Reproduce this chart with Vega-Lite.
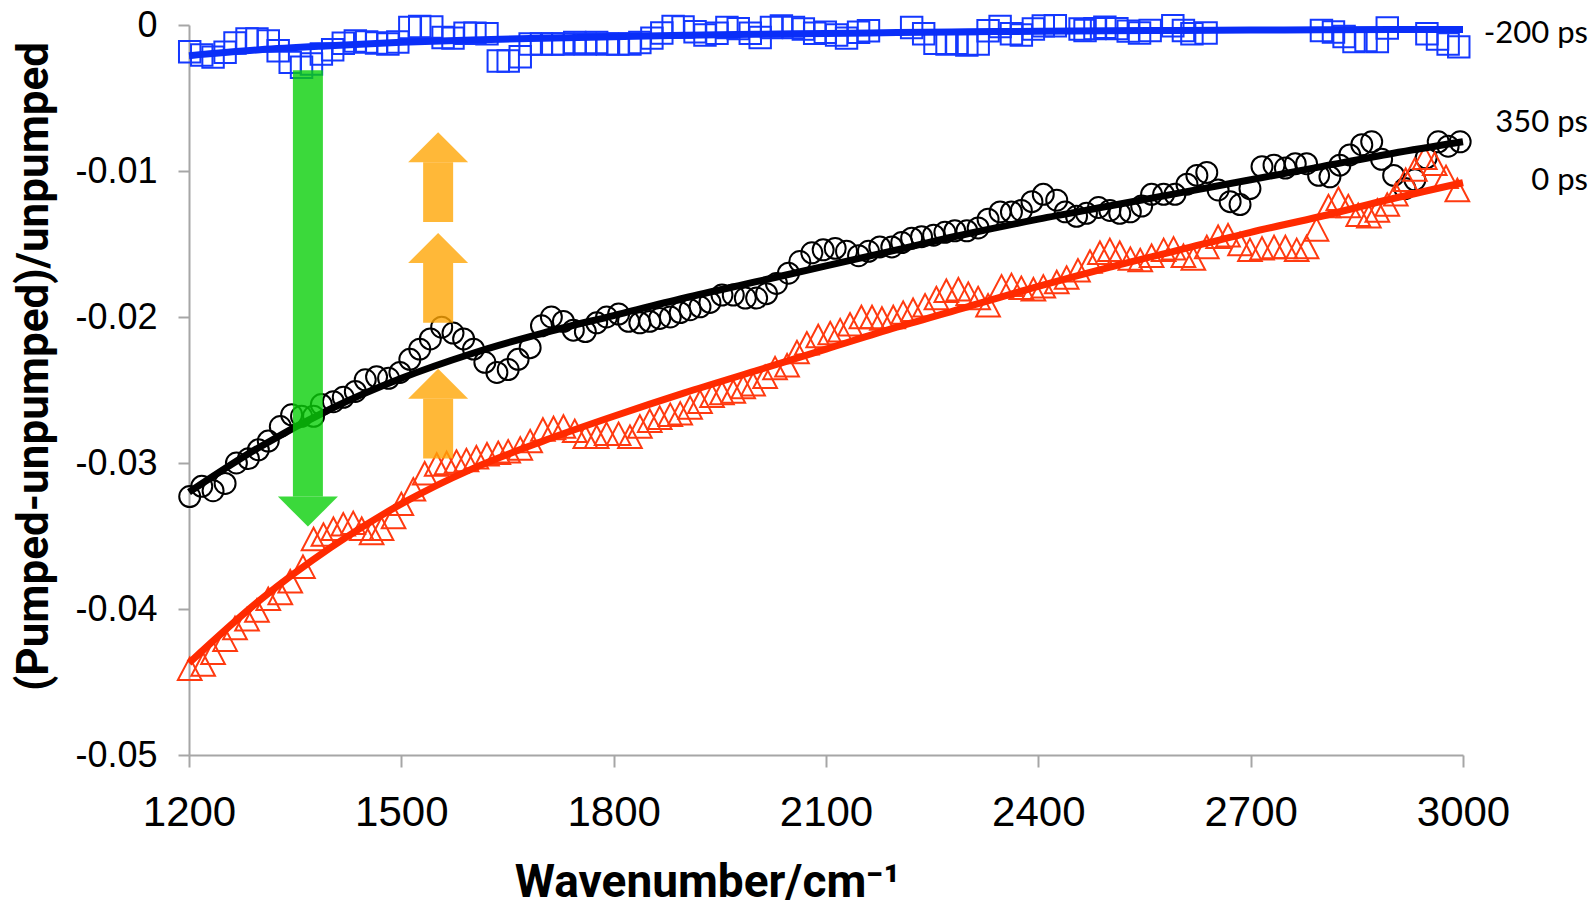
{
 "$schema": "https://vega.github.io/schema/vega-lite/v6.json",
 "width": 1274,
 "height": 730,
 "autosize": "none",
 "padding": {"left": 189, "top": 25, "right": 131, "bottom": 152},
 "background": "white",
 "config": {"view": {"stroke": null}, "axis": {"grid": false}},
 "datasets": {
  "blue": [
   {"w":1201,"v":-0.00183},{"w":1218,"v":-0.00205},{"w":1234,"v":-0.0022},{"w":1251,"v":-0.00187},{"w":1265,"v":-0.00123},{"w":1282,"v":-0.00096},{"w":1296,"v":-0.00096},{"w":1312,"v":-0.0011},{"w":1326,"v":-0.00176},{"w":1343,"v":-0.00256},{"w":1359,"v":-0.0029},{"w":1373,"v":-0.00267},{"w":1387,"v":-0.00198},{"w":1403,"v":-0.0017},{"w":1418,"v":-0.00125},{"w":1435,"v":-0.0011},{"w":1451,"v":-0.00116},{"w":1465,"v":-0.00123},{"w":1481,"v":-0.0013},{"w":1495,"v":-0.00116},{"w":1512,"v":-0.00017},{"w":1526,"v":-0.0001},{"w":1543,"v":-0.00014},{"w":1559,"v":-0.00085},{"w":1573,"v":-0.0009},{"w":1590,"v":-0.00057},{"w":1604,"v":-0.00057},{"w":1621,"v":-0.0006},{"w":1637,"v":-0.00246},{"w":1651,"v":-0.00246},{"w":1668,"v":-0.00217},{"w":1682,"v":-0.0013},{"w":1698,"v":-0.0013},{"w":1714,"v":-0.0013},{"w":1728,"v":-0.0013},{"w":1745,"v":-0.0012},{"w":1760,"v":-0.0013},{"w":1776,"v":-0.0012},{"w":1791,"v":-0.0013},{"w":1806,"v":-0.0013},{"w":1823,"v":-0.0013},{"w":1837,"v":-0.0012},{"w":1854,"v":-0.0009},{"w":1868,"v":-0.00055},{"w":1884,"v":-0.0001},{"w":1898,"v":-0.00014},{"w":1915,"v":-0.00046},{"w":1929,"v":-0.00068},{"w":1946,"v":-0.00057},{"w":1960,"v":-0.00017},{"w":1976,"v":-0.00025},{"w":1993,"v":-0.00057},{"w":2007,"v":-0.00085},{"w":2023,"v":-0.00017},{"w":2037,"v":-0.00006},{"w":2054,"v":-0.00017},{"w":2068,"v":-0.00027},{"w":2084,"v":-0.00057},{"w":2099,"v":-0.0005},{"w":2115,"v":-0.00068},{"w":2129,"v":-0.0009},{"w":2146,"v":-0.0005},{"w":2160,"v":-0.0004},{"w":2221,"v":-0.00017},{"w":2238,"v":-0.0006},{"w":2254,"v":-0.00125},{"w":2271,"v":-0.0013},{"w":2285,"v":-0.00125},{"w":2299,"v":-0.00137},{"w":2315,"v":-0.0013},{"w":2329,"v":-0.0004},{"w":2346,"v":-0.0001},{"w":2362,"v":-0.0006},{"w":2376,"v":-0.00068},{"w":2393,"v":-0.00027},{"w":2407,"v":-0.00006},{"w":2424,"v":-0.00005},{"w":2459,"v":-0.00027},{"w":2466,"v":-0.00037},{"w":2480,"v":-0.00025},{"w":2494,"v":-0.00016},{"w":2511,"v":-0.00025},{"w":2527,"v":-0.00042},{"w":2543,"v":-0.00055},{"w":2558,"v":-0.00037},{"w":2590,"v":-0.00005},{"w":2605,"v":-0.00037},{"w":2617,"v":-0.0006},{"w":2637,"v":-0.00055},{"w":2800,"v":-0.00037},{"w":2817,"v":-0.00048},{"w":2832,"v":-0.00079},{"w":2846,"v":-0.00114},{"w":2863,"v":-0.00107},{"w":2879,"v":-0.00114},{"w":2893,"v":-0.0002},{"w":2949,"v":-0.0006},{"w":2964,"v":-0.00096},{"w":2979,"v":-0.0013},{"w":2994,"v":-0.0015}
  ],
  "black": [
   {"w":1201,"v":-0.0323},{"w":1218,"v":-0.0316},{"w":1234,"v":-0.0319},{"w":1251,"v":-0.0314},{"w":1267,"v":-0.03},{"w":1284,"v":-0.0297},{"w":1298,"v":-0.0291},{"w":1312,"v":-0.0285},{"w":1329,"v":-0.0275},{"w":1345,"v":-0.0267},{"w":1359,"v":-0.0268},{"w":1376,"v":-0.0268},{"w":1387,"v":-0.026},{"w":1404,"v":-0.0258},{"w":1418,"v":-0.0255},{"w":1435,"v":-0.0251},{"w":1449,"v":-0.0243},{"w":1465,"v":-0.0241},{"w":1482,"v":-0.0242},{"w":1498,"v":-0.0238},{"w":1512,"v":-0.0229},{"w":1526,"v":-0.0222},{"w":1541,"v":-0.0215},{"w":1557,"v":-0.0207},{"w":1573,"v":-0.0211},{"w":1588,"v":-0.0215},{"w":1602,"v":-0.0222},{"w":1618,"v":-0.0231},{"w":1635,"v":-0.0238},{"w":1651,"v":-0.0236},{"w":1665,"v":-0.0229},{"w":1682,"v":-0.0221},{"w":1698,"v":-0.0206},{"w":1712,"v":-0.02},{"w":1729,"v":-0.0203},{"w":1743,"v":-0.0209},{"w":1760,"v":-0.021},{"w":1776,"v":-0.0204},{"w":1790,"v":-0.02},{"w":1807,"v":-0.0198},{"w":1821,"v":-0.0203},{"w":1837,"v":-0.0204},{"w":1851,"v":-0.0203},{"w":1865,"v":-0.0201},{"w":1880,"v":-0.02},{"w":1894,"v":-0.0197},{"w":1908,"v":-0.0195},{"w":1922,"v":-0.0193},{"w":1936,"v":-0.019},{"w":1953,"v":-0.0185},{"w":1969,"v":-0.0185},{"w":1986,"v":-0.0187},{"w":2002,"v":-0.0187},{"w":2016,"v":-0.0184},{"w":2030,"v":-0.0177},{"w":2047,"v":-0.017},{"w":2063,"v":-0.0162},{"w":2080,"v":-0.0156},{"w":2096,"v":-0.0154},{"w":2113,"v":-0.0153},{"w":2129,"v":-0.0155},{"w":2146,"v":-0.0158},{"w":2160,"v":-0.0155},{"w":2176,"v":-0.0152},{"w":2193,"v":-0.0152},{"w":2207,"v":-0.0149},{"w":2221,"v":-0.0146},{"w":2235,"v":-0.0145},{"w":2252,"v":-0.0144},{"w":2268,"v":-0.0142},{"w":2282,"v":-0.0141},{"w":2299,"v":-0.0141},{"w":2315,"v":-0.0139},{"w":2329,"v":-0.0133},{"w":2346,"v":-0.0128},{"w":2362,"v":-0.0128},{"w":2376,"v":-0.0127},{"w":2391,"v":-0.0121},{"w":2407,"v":-0.0116},{"w":2426,"v":-0.012},{"w":2438,"v":-0.0128},{"w":2454,"v":-0.0131},{"w":2468,"v":-0.0129},{"w":2485,"v":-0.0125},{"w":2501,"v":-0.0127},{"w":2515,"v":-0.0129},{"w":2530,"v":-0.0128},{"w":2546,"v":-0.0124},{"w":2560,"v":-0.0116},{"w":2577,"v":-0.0116},{"w":2593,"v":-0.0116},{"w":2610,"v":-0.0109},{"w":2624,"v":-0.0103},{"w":2638,"v":-0.0101},{"w":2654,"v":-0.0113},{"w":2671,"v":-0.0121},{"w":2685,"v":-0.0123},{"w":2699,"v":-0.0112},{"w":2716,"v":-0.0097},{"w":2733,"v":-0.0096},{"w":2749,"v":-0.0098},{"w":2763,"v":-0.0095},{"w":2779,"v":-0.0095},{"w":2796,"v":-0.0103},{"w":2812,"v":-0.0104},{"w":2826,"v":-0.0096},{"w":2840,"v":-0.0089},{"w":2857,"v":-0.0082},{"w":2871,"v":-0.008},{"w":2885,"v":-0.0092},{"w":2902,"v":-0.0103},{"w":2918,"v":-0.0112},{"w":2932,"v":-0.0106},{"w":2948,"v":-0.0091},{"w":2965,"v":-0.008},{"w":2979,"v":-0.0083},{"w":2996,"v":-0.008}
  ],
  "red": [
   {"w":1201,"v":-0.0441},{"w":1220,"v":-0.0438},{"w":1234,"v":-0.043},{"w":1251,"v":-0.0421},{"w":1265,"v":-0.0413},{"w":1282,"v":-0.0407},{"w":1296,"v":-0.0401},{"w":1312,"v":-0.0393},{"w":1329,"v":-0.0389},{"w":1343,"v":-0.0381},{"w":1361,"v":-0.0371},{"w":1376,"v":-0.0352},{"w":1390,"v":-0.0349},{"w":1404,"v":-0.0345},{"w":1418,"v":-0.0342},{"w":1432,"v":-0.0341},{"w":1444,"v":-0.0345},{"w":1458,"v":-0.0348},{"w":1472,"v":-0.0345},{"w":1489,"v":-0.0337},{"w":1500,"v":-0.0328},{"w":1517,"v":-0.0318},{"w":1533,"v":-0.0307},{"w":1550,"v":-0.0301},{"w":1564,"v":-0.03},{"w":1578,"v":-0.0299},{"w":1592,"v":-0.0298},{"w":1606,"v":-0.0296},{"w":1621,"v":-0.0294},{"w":1637,"v":-0.0293},{"w":1651,"v":-0.0292},{"w":1668,"v":-0.029},{"w":1682,"v":-0.0285},{"w":1700,"v":-0.0277},{"w":1715,"v":-0.0276},{"w":1729,"v":-0.0275},{"w":1745,"v":-0.0278},{"w":1760,"v":-0.0282},{"w":1776,"v":-0.0282},{"w":1790,"v":-0.028},{"w":1807,"v":-0.028},{"w":1823,"v":-0.0282},{"w":1837,"v":-0.0275},{"w":1851,"v":-0.0271},{"w":1865,"v":-0.0269},{"w":1880,"v":-0.0267},{"w":1894,"v":-0.0266},{"w":1908,"v":-0.0262},{"w":1922,"v":-0.0258},{"w":1939,"v":-0.0254},{"w":1953,"v":-0.0252},{"w":1969,"v":-0.0251},{"w":1983,"v":-0.0248},{"w":1997,"v":-0.0246},{"w":2014,"v":-0.0241},{"w":2028,"v":-0.0235},{"w":2045,"v":-0.0233},{"w":2059,"v":-0.0224},{"w":2073,"v":-0.0218},{"w":2089,"v":-0.0213},{"w":2106,"v":-0.0211},{"w":2120,"v":-0.0209},{"w":2134,"v":-0.0205},{"w":2150,"v":-0.02},{"w":2165,"v":-0.02},{"w":2179,"v":-0.0201},{"w":2195,"v":-0.02},{"w":2209,"v":-0.0197},{"w":2223,"v":-0.0195},{"w":2240,"v":-0.0192},{"w":2256,"v":-0.0187},{"w":2270,"v":-0.0182},{"w":2287,"v":-0.0181},{"w":2301,"v":-0.0184},{"w":2315,"v":-0.0187},{"w":2329,"v":-0.0192},{"w":2348,"v":-0.0179},{"w":2362,"v":-0.0178},{"w":2376,"v":-0.018},{"w":2393,"v":-0.0181},{"w":2407,"v":-0.0179},{"w":2426,"v":-0.0176},{"w":2440,"v":-0.0173},{"w":2456,"v":-0.0168},{"w":2473,"v":-0.0162},{"w":2487,"v":-0.0156},{"w":2501,"v":-0.0154},{"w":2515,"v":-0.0156},{"w":2530,"v":-0.016},{"w":2544,"v":-0.0161},{"w":2560,"v":-0.0158},{"w":2577,"v":-0.0154},{"w":2591,"v":-0.0153},{"w":2605,"v":-0.0158},{"w":2619,"v":-0.016},{"w":2638,"v":-0.0152},{"w":2654,"v":-0.0145},{"w":2668,"v":-0.0144},{"w":2685,"v":-0.015},{"w":2699,"v":-0.0154},{"w":2716,"v":-0.0153},{"w":2733,"v":-0.0152},{"w":2749,"v":-0.0152},{"w":2765,"v":-0.0154},{"w":2779,"v":-0.0152},{"w":2793,"v":-0.014},{"w":2810,"v":-0.0124},{"w":2824,"v":-0.0119},{"w":2838,"v":-0.0124},{"w":2852,"v":-0.013},{"w":2867,"v":-0.0131},{"w":2879,"v":-0.0127},{"w":2893,"v":-0.0123},{"w":2905,"v":-0.0116},{"w":2919,"v":-0.0106},{"w":2932,"v":-0.0099},{"w":2946,"v":-0.0091},{"w":2960,"v":-0.0095},{"w":2976,"v":-0.0104},{"w":2992,"v":-0.0113}
  ],
  "fitBlue": [
   {"w":1200,"v":-0.0021},{"w":1300,"v":-0.0017},{"w":1400,"v":-0.00142},{"w":1500,"v":-0.00118},{"w":1600,"v":-0.00102},{"w":1700,"v":-0.0009},{"w":1800,"v":-0.0008},{"w":1900,"v":-0.00071},{"w":2000,"v":-0.00064},{"w":2100,"v":-0.00058},{"w":2200,"v":-0.00052},{"w":2300,"v":-0.00047},{"w":2400,"v":-0.00043},{"w":2500,"v":-0.0004},{"w":2600,"v":-0.00037},{"w":2700,"v":-0.00035},{"w":2800,"v":-0.00033},{"w":2900,"v":-0.00031},{"w":3000,"v":-0.0003}
  ],
  "fitBlack": [
   {"w":1200,"v":-0.032},{"w":1300,"v":-0.0289},{"w":1400,"v":-0.0263},{"w":1500,"v":-0.0242},{"w":1600,"v":-0.0225},{"w":1700,"v":-0.0211},{"w":1800,"v":-0.0199},{"w":1900,"v":-0.0187},{"w":2000,"v":-0.0176},{"w":2100,"v":-0.0165},{"w":2200,"v":-0.0154},{"w":2300,"v":-0.0143},{"w":2400,"v":-0.0133},{"w":2500,"v":-0.0124},{"w":2600,"v":-0.0115},{"w":2700,"v":-0.0106},{"w":2800,"v":-0.0097},{"w":2900,"v":-0.0088},{"w":3000,"v":-0.008}
  ],
  "fitRed": [
   {"w":1200,"v":-0.0437},{"w":1300,"v":-0.0394},{"w":1400,"v":-0.0358},{"w":1500,"v":-0.0328},{"w":1600,"v":-0.0304},{"w":1700,"v":-0.0285},{"w":1800,"v":-0.0268},{"w":1900,"v":-0.0252},{"w":2000,"v":-0.0237},{"w":2100,"v":-0.0222},{"w":2200,"v":-0.0207},{"w":2300,"v":-0.0193},{"w":2400,"v":-0.0179},{"w":2500,"v":-0.0166},{"w":2600,"v":-0.0154},{"w":2700,"v":-0.0142},{"w":2800,"v":-0.0131},{"w":2900,"v":-0.0119},{"w":3000,"v":-0.0108}
  ],
  "arrows": [
   {"w":1368,"v":-0.0031,"v2":-0.0323,"c":"green"},
   {"w":1552,"v":-0.0135,"v2":-0.0094,"c":"orange"},
   {"w":1552,"v":-0.0204,"v2":-0.0163,"c":"orange"},
   {"w":1552,"v":-0.0297,"v2":-0.0256,"c":"orange"}
  ],
  "labels": [
   {"w":3000,"v":-0.0006,"t":"-200 ps"},
   {"w":3000,"v":-0.0067,"t":"350 ps"},
   {"w":3000,"v":-0.0107,"t":"0 ps"}
  ]
 },
 "layer": [
  {
   "data": {"name": "blue"},
   "mark": {"type": "point", "shape": "square", "size": 460, "filled": false, "color": "#1438FF", "strokeWidth": 2, "opacity": 1},
   "encoding": {
    "x": {"field": "w", "type": "quantitative", "scale": {"domain": [1200, 3000], "nice": false},
     "axis": {"values": [1200, 1500, 1800, 2100, 2400, 2700, 3000], "format": "d", "title": "Wavenumber/cm⁻¹",
      "labelFont": "Liberation Sans", "labelFontSize": 42, "labelColor": "#000", "labelPadding": 25, "labelFlush": false,
      "domainColor": "#A6A6A6", "domainWidth": 2, "tickColor": "#A6A6A6", "tickWidth": 2, "tickSize": 12,
      "titleFont": "Roboto", "titleFontWeight": "bold", "titleFontSize": 46, "titleColor": "#000",
      "titleX": 518, "titleY": 141, "titleBaseline": "alphabetic", "titleAlign": "center", "titleAnchor": null}},
    "y": {"field": "v", "type": "quantitative", "scale": {"domain": [-0.05, 0], "nice": false},
     "axis": {"values": [-0.05, -0.04, -0.03, -0.02, -0.01, 0],
      "labelExpr": "datum.value == 0 ? '0' : '-' + format(-datum.value, '.2f')",
      "title": "(Pumped-unpumped)/unpumped",
      "labelFont": "Liberation Sans", "labelFontSize": 36, "labelColor": "#000", "labelPadding": 21, "labelFlush": false,
      "domainColor": "#A6A6A6", "domainWidth": 2, "tickColor": "#A6A6A6", "tickWidth": 2, "tickSize": 11,
      "titleFont": "Roboto", "titleFontWeight": "bold", "titleFontSize": 44, "titleColor": "#000",
      "titleX": -155, "titleY": 341, "titleAngle": -90, "titleBaseline": "middle", "titleAlign": "center"}}
   }
  },
  {
   "data": {"name": "black"},
   "mark": {"type": "point", "shape": "circle", "size": 440, "filled": false, "color": "#000000", "strokeWidth": 2, "opacity": 1},
   "encoding": {
    "x": {"field": "w", "type": "quantitative", "scale": {"domain": [1200, 3000], "nice": false}},
    "y": {"field": "v", "type": "quantitative", "scale": {"domain": [-0.05, 0], "nice": false}}
   }
  },
  {
   "data": {"name": "red"},
   "mark": {"type": "point", "shape": "M0,-0.95L-1,0.95L1,0.95Z", "size": 560, "filled": false, "color": "#FF3A10", "strokeWidth": 2, "opacity": 1},
   "encoding": {
    "x": {"field": "w", "type": "quantitative", "scale": {"domain": [1200, 3000], "nice": false}},
    "y": {"field": "v", "type": "quantitative", "scale": {"domain": [-0.05, 0], "nice": false}}
   }
  },
  {
   "data": {"name": "fitBlue"},
   "mark": {"type": "line", "color": "#0A2EF8", "strokeWidth": 7, "interpolate": "monotone"},
   "encoding": {
    "x": {"field": "w", "type": "quantitative", "scale": {"domain": [1200, 3000], "nice": false}},
    "y": {"field": "v", "type": "quantitative", "scale": {"domain": [-0.05, 0], "nice": false}}
   }
  },
  {
   "data": {"name": "fitBlack"},
   "mark": {"type": "line", "color": "#000000", "strokeWidth": 7, "interpolate": "monotone"},
   "encoding": {
    "x": {"field": "w", "type": "quantitative", "scale": {"domain": [1200, 3000], "nice": false}},
    "y": {"field": "v", "type": "quantitative", "scale": {"domain": [-0.05, 0], "nice": false}}
   }
  },
  {
   "data": {"name": "fitRed"},
   "mark": {"type": "line", "color": "#FF2A00", "strokeWidth": 7, "interpolate": "monotone"},
   "encoding": {
    "x": {"field": "w", "type": "quantitative", "scale": {"domain": [1200, 3000], "nice": false}},
    "y": {"field": "v", "type": "quantitative", "scale": {"domain": [-0.05, 0], "nice": false}}
   }
  },
  {
   "data": {"name": "arrows"},
   "transform": [{"filter": "datum.c == 'green'"}],
   "mark": {"type": "rule", "color": "#0ACF0A", "strokeWidth": 30, "strokeCap": "butt", "opacity": 0.8},
   "encoding": {
    "x": {"field": "w", "type": "quantitative", "scale": {"domain": [1200, 3000], "nice": false}},
    "y": {"field": "v", "type": "quantitative", "scale": {"domain": [-0.05, 0], "nice": false}},
    "y2": {"field": "v2"}
   }
  },
  {
   "data": {"name": "arrows"},
   "transform": [{"filter": "datum.c == 'green'"}],
   "mark": {"type": "point", "shape": "M-1,0L1,0L0,1Z", "size": 3600, "filled": true, "color": "#0ACF0A", "strokeWidth": 0, "opacity": 0.8},
   "encoding": {
    "x": {"field": "w", "type": "quantitative", "scale": {"domain": [1200, 3000], "nice": false}},
    "y": {"field": "v2", "type": "quantitative", "scale": {"domain": [-0.05, 0], "nice": false}}
   }
  },
  {
   "data": {"name": "arrows"},
   "transform": [{"filter": "datum.c == 'orange'"}],
   "mark": {"type": "rule", "color": "#FFA606", "strokeWidth": 30, "strokeCap": "butt", "opacity": 0.8},
   "encoding": {
    "x": {"field": "w", "type": "quantitative", "scale": {"domain": [1200, 3000], "nice": false}},
    "y": {"field": "v", "type": "quantitative", "scale": {"domain": [-0.05, 0], "nice": false}},
    "y2": {"field": "v2"}
   }
  },
  {
   "data": {"name": "arrows"},
   "transform": [{"filter": "datum.c == 'orange'"}],
   "mark": {"type": "point", "shape": "M-1,0L1,0L0,-1Z", "size": 3600, "filled": true, "color": "#FFA606", "strokeWidth": 0, "opacity": 0.8},
   "encoding": {
    "x": {"field": "w", "type": "quantitative", "scale": {"domain": [1200, 3000], "nice": false}},
    "y": {"field": "v2", "type": "quantitative", "scale": {"domain": [-0.05, 0], "nice": false}}
   }
  },
  {
   "data": {"name": "labels"},
   "mark": {"type": "text", "font": "Lato", "fontSize": 31, "align": "right", "baseline": "middle", "dx": 125, "color": "#000"},
   "encoding": {
    "x": {"field": "w", "type": "quantitative", "scale": {"domain": [1200, 3000], "nice": false}},
    "y": {"field": "v", "type": "quantitative", "scale": {"domain": [-0.05, 0], "nice": false}},
    "text": {"field": "t"}
   }
  }
 ]
}
